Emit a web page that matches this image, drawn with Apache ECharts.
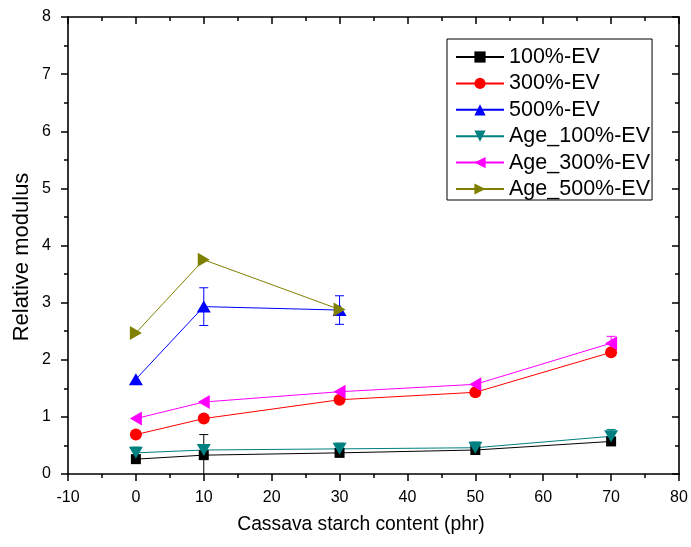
<!DOCTYPE html>
<html>
<head>
<meta charset="utf-8">
<script src="https://cdn.jsdelivr.net/npm/echarts@6/dist/echarts.min.js"></script>
<style>
  html, body { margin: 0; padding: 0; background: #fff; }
  #chart { width: 691px; height: 547px; }
</style>
</head>
<body>
<div id="chart"></div>
<script>
// Cassava starch content (phr)
const starch = [0, 10, 30, 50, 70];
const starchShort = [0, 10, 30];

// Relative modulus per strain level, fresh and aged
const ev100 = [0.26, 0.33, 0.37, 0.42, 0.57];
const ev300 = [0.69, 0.97, 1.30, 1.43, 2.13];
const ev500 = [1.66, 2.93, 2.87];
const age100 = [0.37, 0.42, 0.44, 0.46, 0.66];
const age300 = [0.97, 1.26, 1.44, 1.57, 2.29];
const age500 = [2.47, 3.75, 2.88];

// Standard deviations
const ev100Err = [0, 0.36, 0, 0, 0];
const ev300Err = [0, 0, 0.05, 0, 0.05];
const ev500Err = [0, 0.33, 0.25];
const age100Err = [0.1, 0.08, 0.1, 0.1, 0.12];
const age300Err = [0, 0, 0, 0, 0.12];
const age500Err = [0, 0, 0];

const seriesNames = ['100%-EV', '300%-EV', '500%-EV', 'Age_100%-EV', 'Age_300%-EV', 'Age_500%-EV'];
const xTitle = 'Cassava starch content (phr)';
const yTitle = 'Relative modulus';

const xTicks = { min: -10, max: 80, step: 10 };
const yTicks = { min: 0, max: 8, step: 1 };

const FONT = '"Liberation Sans", Arial, sans-serif';

function pairs(xs, ys) { return xs.map((x, i) => [x, ys[i]]); }
function triples(xs, ys, es) { return xs.map((x, i) => [x, ys[i], es[i]]); }

function errorSeries(xs, ys, es, color) {
  return {
    type: 'custom',
    xAxisIndex: 0, yAxisIndex: 0,
    silent: true,
    z: 1,
    data: triples(xs, ys, es).filter(d => d[2] > 0),
    renderItem: function (params, api) {
      const x = api.value(0), y = api.value(1), e = api.value(2);
      const hi = api.coord([x, y + e]);
      const lo = api.coord([x, Math.max(0, y - e)]);
      const half = 4.5;
      const style = { stroke: color, lineWidth: 1, fill: null };
      const kids = [
        { type: 'line', shape: { x1: hi[0], y1: hi[1], x2: lo[0], y2: lo[1] }, style: style },
        { type: 'line', shape: { x1: hi[0] - half, y1: hi[1], x2: hi[0] + half, y2: hi[1] }, style: style }
      ];
      if (y - e > 0) {
        kids.push({ type: 'line', shape: { x1: lo[0] - half, y1: lo[1], x2: lo[0] + half, y2: lo[1] }, style: style });
      }
      return { type: 'group', children: kids };
    }
  };
}

function lineSeries(name, xs, ys, color, symbol, size, rotate) {
  return {
    name: name,
    type: 'line',
    xAxisIndex: 0, yAxisIndex: 0,
    data: pairs(xs, ys),
    symbol: symbol,
    symbolSize: size,
    symbolRotate: rotate,
    showAllSymbol: true,
    z: 2,
    lineStyle: { color: color, width: 1 },
    itemStyle: { color: color, borderWidth: 0 },
    emphasis: { disabled: true },
    animation: false
  };
}

const tri = [14, 12];

const series = [
  errorSeries(starch, ev100, ev100Err, '#000000'),
  lineSeries(seriesNames[0], starch, ev100, '#000000', 'rect', 10, 0),
  errorSeries(starch, ev300, ev300Err, '#ff0000'),
  lineSeries(seriesNames[1], starch, ev300, '#ff0000', 'circle', 12, 0),
  errorSeries(starchShort, ev500, ev500Err, '#0000ff'),
  lineSeries(seriesNames[2], starchShort, ev500, '#0000ff', 'triangle', tri, 0),
  errorSeries(starch, age100, age100Err, '#008080'),
  lineSeries(seriesNames[3], starch, age100, '#008080', 'triangle', tri, 180),
  errorSeries(starch, age300, age300Err, '#ff00ff'),
  lineSeries(seriesNames[4], starch, age300, '#ff00ff', 'triangle', tri, 90),
  errorSeries(starchShort, age500, age500Err, '#808000'),
  lineSeries(seriesNames[5], starchShort, age500, '#808000', 'triangle', tri, -90)
];

const axisLine = { show: true, onZero: false, lineStyle: { color: '#000', width: 1.6 } };
const tickStyle = { color: '#000', width: 1.5 };

function frameAxis(position, range, outerLabels) {
  return {
    type: 'value', position: position,
    min: range.min, max: range.max, interval: range.step,
    axisLine: axisLine,
    axisTick: { show: true, inside: !outerLabels, length: 7, lineStyle: tickStyle },
    minorTick: { show: true, splitNumber: 2, length: 4, lineStyle: tickStyle },
    axisLabel: outerLabels
      ? { fontFamily: FONT, fontSize: 16, color: '#000', margin: position === 'left' ? 17 : 16 }
      : { show: false },
    splitLine: { show: false }
  };
}

const option = {
  animation: false,
  backgroundColor: '#ffffff',
  grid: { left: 68, right: 12, top: 17, bottom: 73, containLabel: false, outerBoundsMode: 'none' },
  legend: {
    orient: 'vertical',
    left: 447, top: 39,
    padding: [7, 2, 0, 8],
    itemGap: 4.4,
    itemWidth: 48, itemHeight: 14,
    borderColor: '#000', borderWidth: 1,
    backgroundColor: '#fff',
    textStyle: { fontFamily: FONT, fontSize: 21.5, color: '#000', lineHeight: 21 },
    data: seriesNames
  },
  xAxis: [frameAxis('bottom', xTicks, true), frameAxis('top', xTicks, false)],
  yAxis: [frameAxis('left', yTicks, true), frameAxis('right', yTicks, false)],
  graphic: [
    {
      type: 'text', x: 361, y: 525,
      style: { text: xTitle, fontFamily: FONT, fontSize: 19.3, fill: '#000', align: 'center', verticalAlign: 'middle' }
    },
    {
      type: 'text', x: 22, y: 257, rotation: Math.PI / 2,
      style: { text: yTitle, fontFamily: FONT, fontSize: 22, fill: '#000', align: 'center', verticalAlign: 'middle' }
    }
  ],
  series: series
};

const chart = echarts.init(document.getElementById('chart'), null, { renderer: 'canvas' });
chart.setOption(option);
</script>
</body>
</html>
